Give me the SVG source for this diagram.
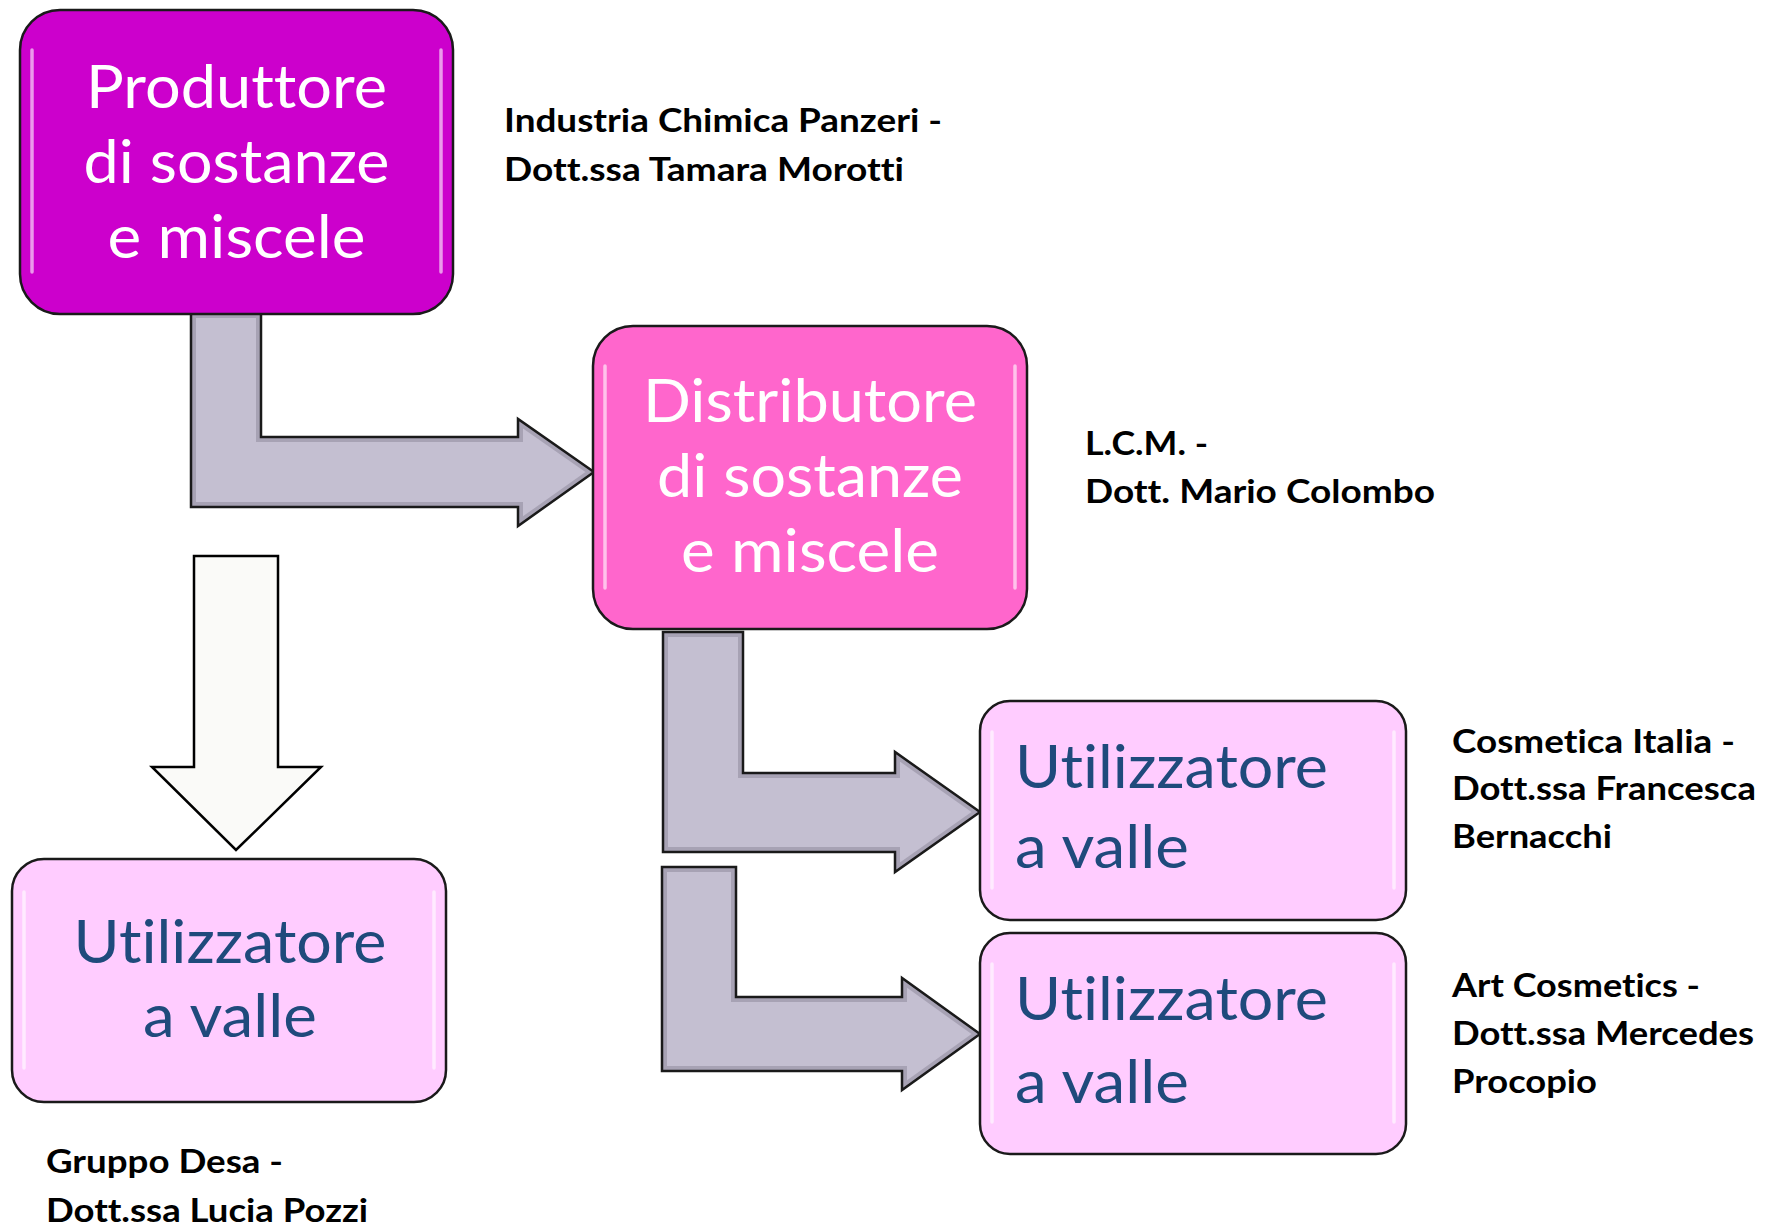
<svg xmlns="http://www.w3.org/2000/svg" xmlns:xlink="http://www.w3.org/1999/xlink" width="1772" height="1227" viewBox="0 0 1772 1227">
<style>
text{font-variant-ligatures:none;font-feature-settings:"liga" 0,"clig" 0,"dlig" 0}
.box{stroke:#1a1a1a;stroke-width:2.5}
.b1{fill:#cc00cc}
.b2{fill:#ff66cc}
.b3{fill:#ffccff}
.hl{stroke:#ffffff;stroke-width:3.5;stroke-linecap:round;opacity:.6;fill:none}
.t{font-family:Lato,"Open Sans","Liberation Sans",sans-serif;font-size:60px}
.tw{fill:#ffffff}
.tn{fill:#1f4a7c}
.lbl{font-family:Lato,"Open Sans","Liberation Sans",sans-serif;font-weight:bold;font-size:31.5px;fill:#000000}
.afill{fill:#c4bfd1}
.ainner{fill:none;stroke:#8f8b9c;stroke-width:10;opacity:.55}
.aout{fill:none;stroke:#1a1a1a;stroke-width:2.5;stroke-linejoin:miter}
.down{fill:#fafaf8;stroke:#000000;stroke-width:2.5}
</style>
<defs>
<path id="p1" d="M191,313 H261 V437 H518 V419 L594,472 L518,526 V507 H191 Z"/>
<path id="p2" d="M663,632 H743 V773 H895 V752 L980,812 L895,872 V852 H663 Z"/>
<path id="p3" d="M662,867 H736 V997 H902 V978 L980,1034 L902,1090 V1071 H662 Z"/>
<clipPath id="c1"><use xlink:href="#p1"/></clipPath>
<clipPath id="c2"><use xlink:href="#p2"/></clipPath>
<clipPath id="c3"><use xlink:href="#p3"/></clipPath>
</defs>
<rect width="1772" height="1227" fill="#ffffff"/>

<g id="connectors">
  <g id="arrow-produttore-distributore">
    <use xlink:href="#p1" class="afill"/>
    <use xlink:href="#p1" class="ainner" clip-path="url(#c1)"/>
    <use xlink:href="#p1" class="aout"/>
  </g>
  <g id="arrow-distributore-utilizzatore1">
    <use xlink:href="#p2" class="afill"/>
    <use xlink:href="#p2" class="ainner" clip-path="url(#c2)"/>
    <use xlink:href="#p2" class="aout"/>
  </g>
  <g id="arrow-distributore-utilizzatore2">
    <use xlink:href="#p3" class="afill"/>
    <use xlink:href="#p3" class="ainner" clip-path="url(#c3)"/>
    <use xlink:href="#p3" class="aout"/>
  </g>
  <path id="arrow-down" class="down" d="M194,556 H278 V767 H321 L236,850 L152,767 H194 Z"/>
</g>

<g id="produttore">
  <rect class="box b1" x="20" y="10" width="433" height="304" rx="40"/>
  <line class="hl" x1="32" y1="50" x2="32" y2="272"/>
  <line class="hl" x1="441" y1="50" x2="441" y2="272"/>
  <text class="t tw" text-anchor="middle" x="236.5" y="108" textLength="301" lengthAdjust="spacingAndGlyphs">Produttore</text>
  <text class="t tw" text-anchor="middle" x="236.5" y="183" textLength="306" lengthAdjust="spacingAndGlyphs">di sostanze</text>
  <text class="t tw" text-anchor="middle" x="236.5" y="258" textLength="258" lengthAdjust="spacingAndGlyphs">e miscele</text>
</g>

<g id="distributore">
  <rect class="box b2" x="593" y="326" width="434" height="303" rx="40"/>
  <line class="hl" x1="605" y1="366" x2="605" y2="588"/>
  <line class="hl" x1="1015" y1="366" x2="1015" y2="588"/>
  <text class="t tw" text-anchor="middle" x="810" y="422" textLength="334" lengthAdjust="spacingAndGlyphs">Distributore</text>
  <text class="t tw" text-anchor="middle" x="810" y="497" textLength="306" lengthAdjust="spacingAndGlyphs">di sostanze</text>
  <text class="t tw" text-anchor="middle" x="810" y="572" textLength="258" lengthAdjust="spacingAndGlyphs">e miscele</text>
</g>

<g id="utilizzatore1">
  <rect class="box b3" x="980" y="701" width="426" height="219" rx="30"/>
  <line class="hl" x1="992" y1="732" x2="992" y2="888"/>
  <line class="hl" x1="1394" y1="732" x2="1394" y2="888"/>
  <text class="t tn" x="1015" y="788" textLength="313" lengthAdjust="spacingAndGlyphs">Utilizzatore</text>
  <text class="t tn" x="1015" y="868" textLength="174" lengthAdjust="spacingAndGlyphs">a valle</text>
</g>

<g id="utilizzatore2">
  <rect class="box b3" x="980" y="933" width="426" height="221" rx="30"/>
  <line class="hl" x1="992" y1="964" x2="992" y2="1122"/>
  <line class="hl" x1="1394" y1="964" x2="1394" y2="1122"/>
  <text class="t tn" x="1015" y="1020" textLength="313" lengthAdjust="spacingAndGlyphs">Utilizzatore</text>
  <text class="t tn" x="1015" y="1103" textLength="174" lengthAdjust="spacingAndGlyphs">a valle</text>
</g>

<g id="utilizzatore3">
  <rect class="box b3" x="12" y="859" width="434" height="243" rx="32"/>
  <line class="hl" x1="24" y1="892" x2="24" y2="1068"/>
  <line class="hl" x1="434" y1="892" x2="434" y2="1068"/>
  <text class="t tn" text-anchor="middle" x="230" y="963" textLength="313" lengthAdjust="spacingAndGlyphs">Utilizzatore</text>
  <text class="t tn" text-anchor="middle" x="230" y="1037" textLength="174" lengthAdjust="spacingAndGlyphs">a valle</text>
</g>

<g id="label-produttore">
  <text class="lbl" x="504" y="132" textLength="438" lengthAdjust="spacingAndGlyphs">Industria Chimica Panzeri -</text>
  <text class="lbl" x="504" y="181" textLength="400" lengthAdjust="spacingAndGlyphs">Dott.ssa Tamara Morotti</text>
</g>
<g id="label-distributore">
  <text class="lbl" x="1085" y="455" textLength="123" lengthAdjust="spacingAndGlyphs">L.C.M. -</text>
  <text class="lbl" x="1085" y="503" textLength="350" lengthAdjust="spacingAndGlyphs">Dott. Mario Colombo</text>
</g>
<g id="label-utilizzatore1">
  <text class="lbl" x="1452" y="753" textLength="283" lengthAdjust="spacingAndGlyphs">Cosmetica Italia -</text>
  <text class="lbl" x="1452" y="800" textLength="304" lengthAdjust="spacingAndGlyphs">Dott.ssa Francesca</text>
  <text class="lbl" x="1452" y="848" textLength="160" lengthAdjust="spacingAndGlyphs">Bernacchi</text>
</g>
<g id="label-utilizzatore2">
  <text class="lbl" x="1452" y="997" textLength="248" lengthAdjust="spacingAndGlyphs">Art Cosmetics -</text>
  <text class="lbl" x="1452" y="1045" textLength="302" lengthAdjust="spacingAndGlyphs">Dott.ssa Mercedes</text>
  <text class="lbl" x="1452" y="1093" textLength="145" lengthAdjust="spacingAndGlyphs">Procopio</text>
</g>
<g id="label-utilizzatore3">
  <text class="lbl" x="46" y="1173" textLength="237" lengthAdjust="spacingAndGlyphs">Gruppo Desa -</text>
  <text class="lbl" x="46" y="1222" textLength="322" lengthAdjust="spacingAndGlyphs">Dott.ssa Lucia Pozzi</text>
</g>
</svg>
